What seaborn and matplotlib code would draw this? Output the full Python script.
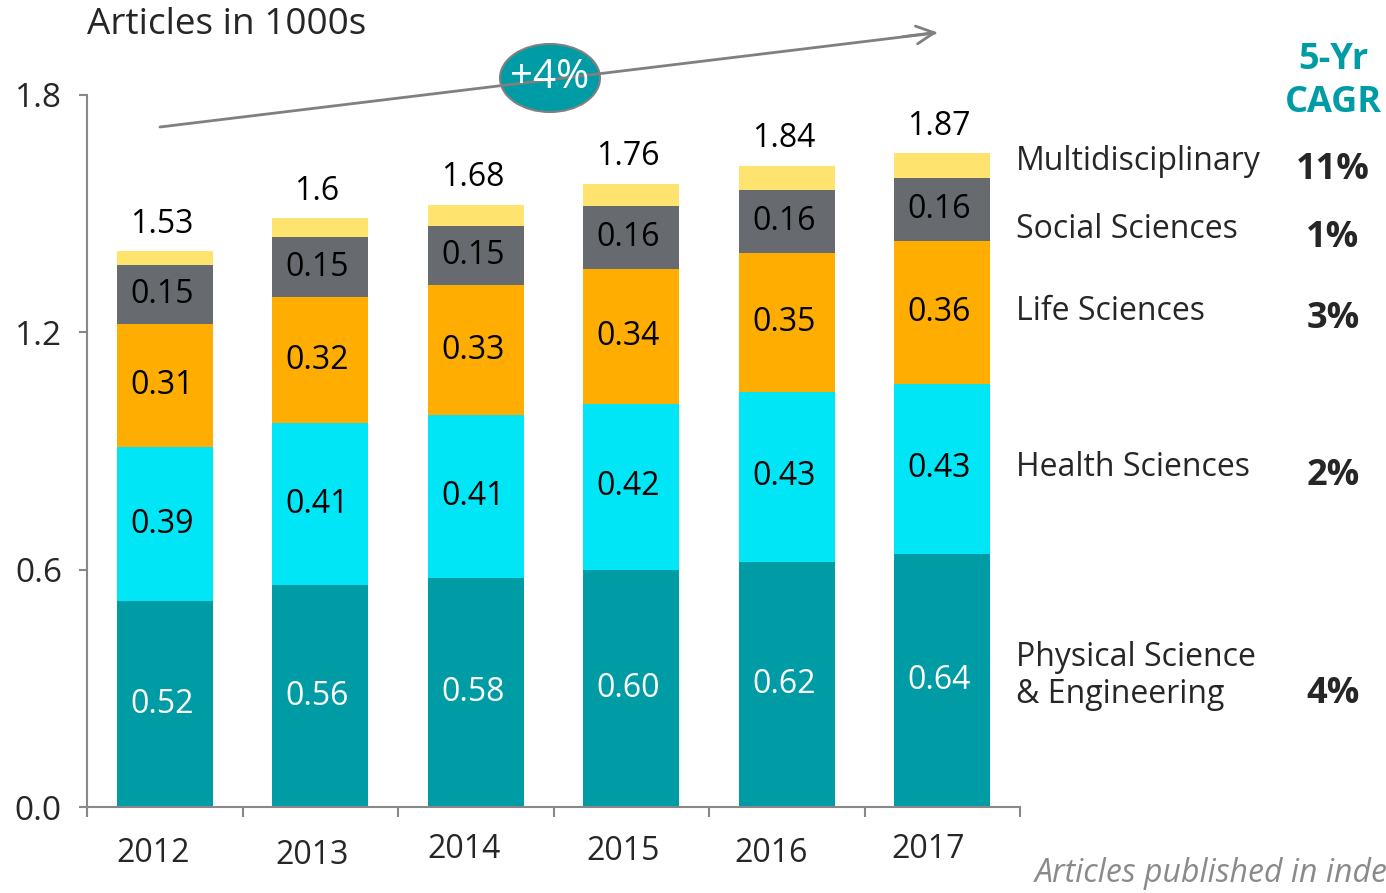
import pandas as pd
import matplotlib.pyplot as plt
import seaborn as sns
from matplotlib.patches import Ellipse
from matplotlib.transforms import offset_copy

# Values (articles in 1000s)
years = ['2012', '2013', '2014', '2015', '2016', '2017']
physical = [0.52, 0.56, 0.58, 0.60, 0.62, 0.64]
health = [0.39, 0.41, 0.41, 0.42, 0.43, 0.43]
life = [0.31, 0.32, 0.33, 0.34, 0.35, 0.36]
social = [0.15, 0.15, 0.15, 0.16, 0.16, 0.16]
multi = [0.035, 0.048, 0.053, 0.056, 0.061, 0.063]
totals = ['1.53', '1.6', '1.68', '1.76', '1.84', '1.87']

series = ['Physical Science\n& Engineering', 'Health Sciences', 'Life Sciences',
          'Social Sciences', 'Multidisciplinary']
cagr = ['4%', '2%', '3%', '1%', '11%']
colors = ['#009ca6', '#00e6f6', '#ffad00', '#676b6f', '#ffe36f']

df = pd.DataFrame({'Year': years, series[0]: physical, series[1]: health,
                   series[2]: life, series[3]: social, series[4]: multi})
cum = df[series].cumsum(axis=1)
cum['Year'] = df['Year']

sns.set_style('white')
plt.rcParams['font.family'] = ['Open Sans', 'DejaVu Sans']

fig = plt.figure(figsize=(13.86, 8.93), dpi=100)
ax = fig.add_axes([87 / 1386, 1 - 807 / 893, (1020 - 87) / 1386, (807 - 95) / 893])

# stacked bars: draw cumulative totals from the top layer down
for s, c in reversed(list(zip(series, colors))):
    sns.barplot(data=cum, x='Year', y=s, color=c, width=0.62, saturation=1,
                edgecolor='none', linewidth=0, ax=ax)

# segment labels
for i in range(len(years)):
    base = 0
    for k, s in enumerate(series[:4]):
        v = df[s][i]
        ax.text(i - 0.02, base + v / 2, f'{v:.2f}', ha='center', va='center',
                fontsize=23, color='white' if k == 0 else 'black')
        base += v
    ax.text(i - 0.02, cum[series[4]][i] + 0.068, totals[i], ha='center',
            va='center', fontsize=23, color='black')

ax.set_ylim(0, 1.8)
ax.set_xlim(-0.5, 5.5)
ax.set_yticks([0, 0.6, 1.2, 1.8])
ax.set_yticklabels(['0.0', '0.6', '1.2', '1.8'])
ax.set_xlabel('')
ax.set_ylabel('')
ax.set_xticks(range(6))
ax.set_xticklabels([])
ax.set_xticks([x - 0.5 for x in range(7)], minor=True)
ax.tick_params(axis='x', which='major', length=0)
ax.tick_params(axis='x', which='minor', length=7, width=1.5, color='#888888',
               direction='out', bottom=True)
ax.tick_params(axis='y', length=6, width=1.5, color='#888888', direction='out',
               left=True, pad=12, labelsize=24)
sns.despine(ax=ax)
for sp in ['left', 'bottom']:
    ax.spines[sp].set_color('#888888')
    ax.spines[sp].set_linewidth(1.5)

# year labels, slightly staggered as in the original
year_dx = [-12, -8, -12, -8, -16, -14]
year_dy = [-46, -49, -43, -45, -47, -42]
for i, (yr, dx, dy) in enumerate(zip(years, year_dx, year_dy)):
    tr = offset_copy(ax.get_xaxis_transform(), fig=fig, x=dx, y=dy, units='dots')
    ax.text(i, 0, yr, transform=tr, ha='center', va='center', fontsize=23)

# title
fig.text(87 / 1386, 1 - 25 / 893, 'Articles in 1000s', ha='left', va='center',
         fontsize=26.6)

# growth arrow with bubble
fig.add_artist(plt.Line2D([160 / 1386, 935 / 1386], [1 - 127 / 893, 1 - 33 / 893],
                          color='#808080', lw=2))
ax.annotate('', xy=(940 / 1386, 1 - 32 / 893), xytext=(900 / 1386, 1 - 37 / 893),
            xycoords='figure fraction', textcoords='figure fraction',
            arrowprops=dict(arrowstyle='->', color='#808080', lw=2,
                            mutation_scale=32))
ell = Ellipse((550 / 1386, 1 - 78 / 893), 100 / 1386, 68 / 893,
              transform=fig.transFigure, facecolor='#009ca6', edgecolor='#808080',
              lw=1.5)
fig.add_artist(ell)
fig.text(550 / 1386, 1 - 78 / 893, '+4%', ha='center', va='center', fontsize=29,
         color='white')

# right-hand labels and CAGR values
label_y = [676, 468, 311, 230, 162]
fig.text(1333 / 1386, 1 - 60 / 893, '5-Yr', ha='center', va='center', fontsize=26,
         fontweight='bold', color='#009ca6')
fig.text(1333 / 1386, 1 - 103 / 893, 'CAGR', ha='center', va='center', fontsize=26,
         fontweight='bold', color='#009ca6')
for s, g, y in zip(series, cagr, label_y):
    fig.text(1016 / 1386, 1 - y / 893, s, ha='left', va='center', fontsize=23,
             linespacing=1.15)
    fig.text(1333 / 1386, 1 - (y + 18 if '\n' in s else y + 8) / 893, g,
             ha='center', va='center', fontsize=26, fontweight='bold')

fig.text(1035 / 1386, 1 - 873 / 893, 'Articles published in indexed journals',
         ha='left', va='center', fontsize=23, style='italic', color='#8a8a8a',
         family=['Liberation Sans Narrow', 'Open Sans', 'DejaVu Sans'])

fig.savefig('out.png', dpi=100)
